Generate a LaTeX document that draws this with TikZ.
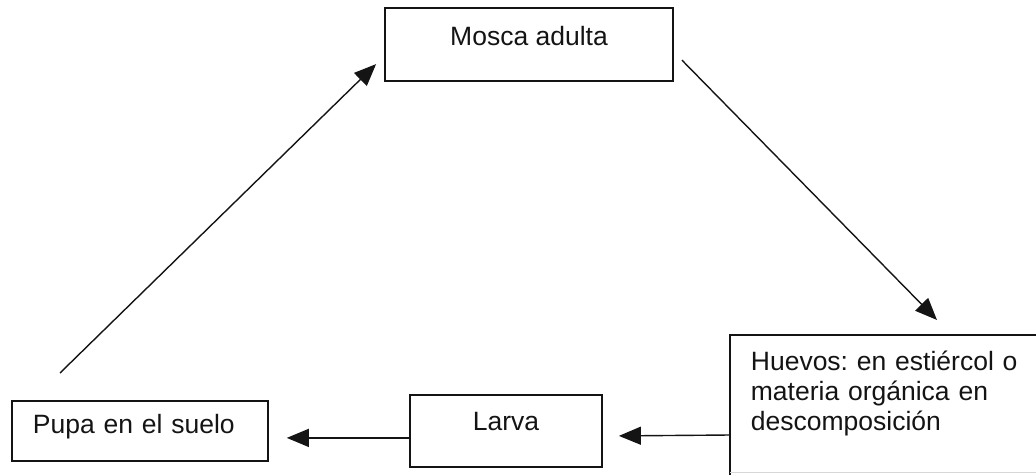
\documentclass[tikz,border=0pt]{standalone}
\usepackage{fontspec}
\setmainfont{Liberation Sans}
\usepackage{tikz}
\usetikzlibrary{arrows.meta,positioning}
\definecolor{inkgray}{RGB}{20,20,20}
\definecolor{fadegray}{RGB}{215,215,215}
\frenchspacing

\tikzset{
  stagebox/.style={draw=inkgray, line width=1.8pt, inner sep=0pt, text=inkgray,
    font=\fontsize{26.5}{30}\selectfont},
  arr/.style={draw=inkgray, line width=1.4pt, -{Triangle[length=22pt,width=18pt]}}
}

\begin{document}
\begin{tikzpicture}[x=1pt,y=-1pt]
  \useasboundingbox (0,0) rectangle (1036,474);
  \clip (0,0) rectangle (1036,474);

  % the four stages
  \node[stagebox, minimum width=288pt, text height=37pt, text depth=36pt] (mosca) at (529,44.5) {Mosca adulta};
  \node[stagebox, draw=none, anchor=north west, minimum width=400pt, text width=360pt, inner xsep=20pt, align=left,
    text height=35pt, text depth=101pt] (huevos) at (730,335)
    {Huevos: en estiércol o\\materia orgánica en\\descomposición};
  \draw[inkgray, line width=1.8pt] (huevos.north east) -- (huevos.north west) -- ([shift={(0,8)}]huevos.south west);
  \draw[fadegray, line width=1.2pt] (huevos.south west) -- (huevos.south east);
  \node[stagebox, minimum width=192pt, text height=36pt, text depth=36pt] (larva) at (506,394) [anchor=north] {Larva};
  \node[stagebox, anchor=north west, text width=214pt, inner xsep=21pt, align=left,
    text height=33pt, text depth=27pt] (pupa) at (11,400) {Pupa en el suelo};

  % cycle
  \draw[arr] ([shift={(8,53)}]mosca.north east) -- ([shift={(207,-15)}]huevos.north west);
  \draw[arr] ([shift={(0,100)}]huevos.north west) -- ([shift={(16,5)}]larva.east);
  \draw[arr] ([shift={(0,7)}]larva.west) -- ([shift={(18,7)}]pupa.east);
  \draw[arr] ([shift={(49,-27)}]pupa.north west) -- ([shift={(-8,57)}]mosca.north west);
\end{tikzpicture}
\end{document}
